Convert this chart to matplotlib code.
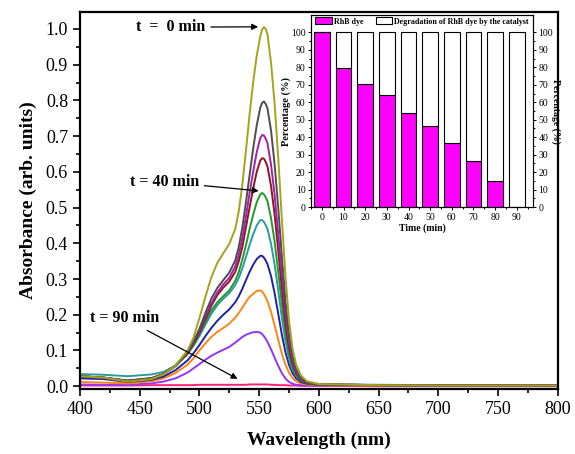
import matplotlib
matplotlib.use("Agg")
import matplotlib.pyplot as plt
from matplotlib.ticker import MultipleLocator, FixedLocator, FormatStrFormatter

plt.rcParams['font.family'] = ['Liberation Serif', 'DejaVu Serif']

# ---------------- data ----------------
wavelength = [400, 420, 440, 460, 470, 480, 490, 495, 500, 505, 510, 515, 520, 525, 530,
              533, 536, 539, 542, 545, 548, 551, 552.5, 554, 555.5, 557, 560, 563, 566, 569, 572, 575,
              578, 581, 585, 590, 600, 650, 700, 750, 800]

abs_t0 = [0.028, 0.024, 0.013, 0.020, 0.033, 0.058, 0.100, 0.135, 0.190, 0.250, 0.305, 0.345, 0.372, 0.398, 0.440,
          0.490, 0.565, 0.660, 0.760, 0.850, 0.925, 0.980, 0.998, 1.005, 1.000, 0.985, 0.905, 0.790, 0.640, 0.470,
          0.310, 0.185, 0.105, 0.060, 0.030, 0.014, 0.006, 0.003, 0.002, 0.002, 0.002]
abs_t10 = [0.028, 0.024, 0.015, 0.022, 0.034, 0.058, 0.095, 0.125, 0.160, 0.205, 0.245, 0.275, 0.297, 0.318, 0.352,
           0.390, 0.445, 0.515, 0.590, 0.665, 0.730, 0.780, 0.793, 0.797, 0.790, 0.778, 0.715, 0.620, 0.500, 0.365,
           0.240, 0.145, 0.082, 0.047, 0.023, 0.011, 0.005, 0.003, 0.002, 0.002, 0.002]
abs_t20 = [0.028, 0.024, 0.015, 0.022, 0.034, 0.058, 0.094, 0.122, 0.155, 0.195, 0.232, 0.262, 0.285, 0.303, 0.335,
           0.368, 0.415, 0.475, 0.540, 0.600, 0.655, 0.695, 0.703, 0.702, 0.693, 0.680, 0.620, 0.535, 0.425, 0.310,
           0.205, 0.122, 0.070, 0.040, 0.020, 0.010, 0.005, 0.003, 0.002, 0.002, 0.002]
abs_t30 = [0.028, 0.024, 0.015, 0.022, 0.034, 0.057, 0.092, 0.120, 0.150, 0.188, 0.225, 0.255, 0.276, 0.293, 0.320,
           0.350, 0.390, 0.445, 0.500, 0.553, 0.600, 0.632, 0.638, 0.637, 0.628, 0.615, 0.560, 0.480, 0.380, 0.275,
           0.180, 0.108, 0.062, 0.036, 0.018, 0.009, 0.005, 0.003, 0.002, 0.002, 0.002]
abs_t40 = [0.028, 0.024, 0.016, 0.023, 0.034, 0.056, 0.090, 0.115, 0.145, 0.180, 0.212, 0.235, 0.252, 0.268, 0.295,
           0.320, 0.355, 0.395, 0.440, 0.480, 0.515, 0.537, 0.541, 0.537, 0.529, 0.518, 0.470, 0.405, 0.320, 0.232,
           0.152, 0.092, 0.053, 0.031, 0.016, 0.008, 0.004, 0.003, 0.002, 0.002, 0.002]
abs_t50 = [0.034, 0.032, 0.028, 0.033, 0.040, 0.058, 0.090, 0.113, 0.140, 0.172, 0.203, 0.227, 0.245, 0.260, 0.283,
           0.303, 0.330, 0.362, 0.395, 0.425, 0.450, 0.465, 0.465, 0.460, 0.451, 0.440, 0.398, 0.340, 0.268, 0.193,
           0.128, 0.078, 0.046, 0.028, 0.016, 0.010, 0.006, 0.004, 0.003, 0.003, 0.003]
abs_t60 = [0.022, 0.020, 0.012, 0.018, 0.027, 0.045, 0.072, 0.092, 0.115, 0.140, 0.163, 0.183, 0.200, 0.215, 0.235,
           0.252, 0.273, 0.297, 0.320, 0.340, 0.356, 0.365, 0.365, 0.360, 0.352, 0.342, 0.308, 0.260, 0.203, 0.145,
           0.096, 0.060, 0.036, 0.022, 0.012, 0.007, 0.004, 0.003, 0.002, 0.002, 0.002]
abs_t70 = [0.012, 0.010, 0.008, 0.014, 0.022, 0.037, 0.060, 0.078, 0.100, 0.120, 0.138, 0.152, 0.163, 0.175, 0.192,
           0.205, 0.220, 0.236, 0.250, 0.258, 0.267, 0.268, 0.265, 0.258, 0.249, 0.238, 0.208, 0.170, 0.130, 0.092,
           0.061, 0.038, 0.023, 0.014, 0.008, 0.005, 0.003, 0.002, 0.002, 0.002, 0.002]
abs_t80 = [0.005, 0.004, 0.004, 0.008, 0.013, 0.022, 0.038, 0.050, 0.062, 0.074, 0.085, 0.094, 0.102, 0.110, 0.122,
           0.130, 0.138, 0.144, 0.148, 0.151, 0.152, 0.150, 0.146, 0.140, 0.133, 0.124, 0.103, 0.080, 0.057, 0.037,
           0.022, 0.012, 0.007, 0.004, 0.003, 0.002, 0.002, 0.002, 0.002, 0.002, 0.002]
abs_t90 = [0.002, 0.002, 0.002, 0.003, 0.003, 0.003, 0.003, 0.003, 0.004, 0.004, 0.004, 0.004, 0.004, 0.004, 0.004,
           0.004, 0.004, 0.004, 0.005, 0.005, 0.005, 0.005, 0.005, 0.005, 0.005, 0.005, 0.004, 0.004, 0.003, 0.003,
           0.003, 0.002, 0.002, 0.002, 0.001, 0.001, 0.001, 0.000, 0.000, 0.000, 0.000]

spectra = [abs_t0, abs_t10, abs_t20, abs_t30, abs_t40, abs_t50, abs_t60, abs_t70, abs_t80, abs_t90]
colors = ['#a3a31c', '#4d4d4d', '#a51fa8', '#8e1420', '#1f9a2a', '#2a9c9c',
          '#1e22a6', '#ff8411', '#9433ff', '#ff1f7a']

times = [0, 10, 20, 30, 40, 50, 60, 70, 80, 90]
rhb_percent = [100, 79.5, 70.5, 64, 54, 46.5, 36.5, 26.5, 15, 0]
degraded_percent = [100 - v for v in rhb_percent]

# ---------------- figure ----------------
fig = plt.figure(figsize=(5.75, 4.54), dpi=100)
ax = fig.add_axes([0.139, 0.143, 0.831, 0.831])

for y, c in zip(spectra[::-1], colors[::-1]):
    ax.plot(wavelength, y, color=c, lw=1.4)

ax.set_xlim(400, 800)
ax.set_ylim(-0.008, 1.048)
ax.xaxis.set_major_locator(MultipleLocator(50))
ax.xaxis.set_minor_locator(MultipleLocator(25))
ax.yaxis.set_major_locator(MultipleLocator(0.1))
ax.yaxis.set_minor_locator(MultipleLocator(0.05))
ax.yaxis.set_major_formatter(FormatStrFormatter('%.1f'))
ax.tick_params(which='both', direction='out', top=False, right=False, labelsize=13, width=1.2)
ax.tick_params(which='major', length=5)
ax.tick_params(which='minor', length=3)
for s in ax.spines.values():
    s.set_linewidth(1.6)
ax.set_xlabel('Wavelength (nm)', fontsize=14, fontweight='bold', labelpad=10)
ax.set_ylabel('Absorbance (arb. units)', fontsize=14, fontweight='bold', labelpad=6)

arrow = dict(arrowstyle='-|>', color='black', lw=0.9, mutation_scale=9)
ax.annotate('t  =  0 min', xy=(551.5, 1.006), xytext=(476, 1.005), fontsize=11.5,
            fontweight='bold', ha='center', va='center', arrowprops=arrow)
ax.annotate('t = 40 min', xy=(552, 0.546), xytext=(470.5, 0.572), fontsize=11.5,
            fontweight='bold', ha='center', va='center', arrowprops=arrow)
ax.annotate('t = 90 min', xy=(534, 0.017), xytext=(437.5, 0.190), fontsize=11.5,
            fontweight='bold', ha='center', va='center', arrowprops=arrow)

# ---------------- inset ----------------
ins = fig.add_axes([0.541, 0.544, 0.386, 0.423])
ins.bar(times, rhb_percent, width=7.2, color='#ff00ff', edgecolor='black', lw=0.8, label='RhB dye')
ins.bar(times, degraded_percent, width=7.2, bottom=rhb_percent, color='white', edgecolor='black', lw=0.8,
        label='Degradation of RhB dye by the catalyst')
ins.set_xlim(-5, 97.5)
ins.set_ylim(0, 110)
ins2 = ins.twinx()
ins2.set_ylim(0, 110)
major_y = list(range(0, 101, 10))
minor_y = list(range(5, 100, 10))
for a in (ins, ins2):
    a.yaxis.set_major_locator(FixedLocator(major_y))
    a.yaxis.set_minor_locator(FixedLocator(minor_y))
ins.xaxis.set_major_locator(MultipleLocator(10))
ins.xaxis.set_minor_locator(MultipleLocator(5))
ins.tick_params(which='both', direction='out', top=False, right=False,
                labelsize=7, width=0.7, pad=1.5)
ins2.tick_params(which='both', direction='out', labelsize=7, width=0.7, pad=1.5)
for a in (ins, ins2):
    a.tick_params(which='major', length=2.5)
    a.tick_params(which='minor', length=1.5)
for s in ins.spines.values():
    s.set_linewidth(0.8)
for s in ins2.spines.values():
    s.set_linewidth(0.8)
ins.set_xlabel('Time (min)', fontsize=7, fontweight='bold', labelpad=1)
ins.set_ylabel('Percentage (%)', fontsize=7.5, fontweight='bold', labelpad=0)
ins2.set_ylabel('Percentage (%)', fontsize=7, fontweight='bold', rotation=-90, labelpad=5)
leg = ins.legend(loc='upper center', ncol=2, frameon=False, prop={'size': 5.8, 'weight': 'bold'},
                 handlelength=2.1, handleheight=0.9, columnspacing=1.5, handletextpad=0.25,
                 borderaxespad=0.2, borderpad=0.1)

fig.savefig('out.png', dpi=100)
